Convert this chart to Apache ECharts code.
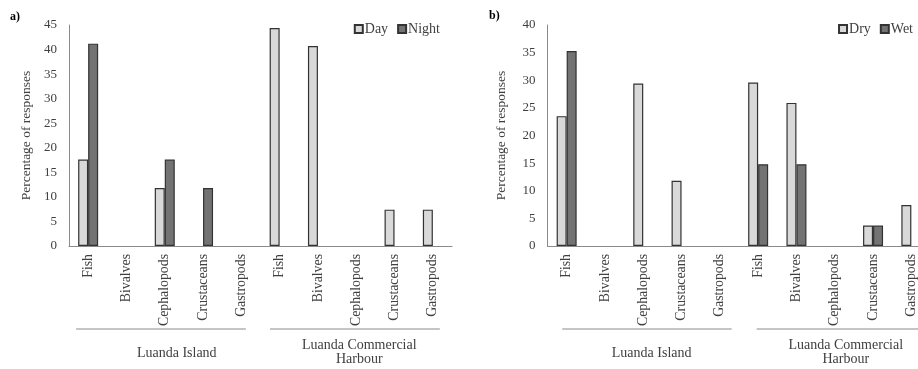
<!DOCTYPE html>
<html><head><meta charset="utf-8">
<script src="https://cdn.jsdelivr.net/npm/echarts@6/dist/echarts.min.js"></script>
<style>html,body{margin:0;padding:0;background:#fff}#c{width:918px;height:369px}</style>
</head><body><div id="c"></div>
<script>
const categories = ['Fish','Bivalves','Cephalopods','Crustaceans','Gastropods','Fish','Bivalves','Cephalopods','Crustaceans','Gastropods'];
const groupIsland = 'Luanda Island';
const groupHarbour = 'Luanda Commercial\nHarbour';
const dayValues   = [17.6, 0, 11.8, 0, 0, 44.4, 40.7, 0, 7.4, 7.4];
const nightValues = [41.2, 0, 17.6, 11.8, 0, 0, 0, 0, 0, 0];
const dryValues   = [23.5, 0, 29.4, 11.8, 0, 29.6, 25.9, 0, 3.7, 7.4];
const wetValues   = [35.3, 0, 0, 0, 0, 14.8, 14.8, 0, 3.7, 0];
const yMaxA = 45, yMaxB = 40, yStep = 5;

const FONT = '"Liberation Serif","Times New Roman",serif';
const TXT = '#404040';
const LIGHT = '#d9d9d9', DARK = '#737373', EDGE = '#333333';
const nz = a => a.map(v => v === 0 ? '-' : v);

const chart = echarts.init(document.getElementById('c'), null, {renderer:'canvas'});

function xAx(gi){
  return {
    type:'category', gridIndex:gi, data:categories,
    axisLine:{lineStyle:{color:'#8a8a8a', width:1}},
    axisTick:{show:false},
    axisLabel:{interval:0, rotate:90, margin:8, fontFamily:FONT, fontSize:13.8, color:TXT}
  };
}
function yAx(gi, max, gap){
  return {
    type:'value', gridIndex:gi, min:0, max:max, interval:yStep,
    name:'Percentage of responses', nameLocation:'middle', nameGap:gap, nameRotate:90,
    nameTextStyle:{fontFamily:FONT, fontSize:13.5, color:TXT},
    axisLine:{show:true, lineStyle:{color:'#8a8a8a', width:1}},
    axisTick:{show:false},
    splitLine:{show:false},
    axisLabel:{margin:12, fontFamily:FONT, fontSize:13, color:TXT}
  };
}
function bar(name, data, xi, color){
  return {
    name:name, type:'bar', xAxisIndex:xi, yAxisIndex:xi, data:nz(data),
    barWidth:10, barGap:'0%',
    itemStyle:{color:color, borderColor:EDGE, borderWidth:1.2},
    emphasis:{disabled:true}, animation:false
  };
}
const legendCommon = {
  icon:'rect', itemWidth:8, itemHeight:8, itemGap:9, top:17,
  textStyle:{fontFamily:FONT, fontSize:14, color:TXT, padding:[0,0,0,-3]}
};

chart.setOption({
  animation:false,
  backgroundColor:'#fff',
  grid:[
    {left:69, top:25, width:383, height:221, containLabel:false, outerBoundsMode:'none'},
    {left:547.5, top:25, width:383, height:221, containLabel:false, outerBoundsMode:'none'}
  ],
  xAxis:[xAx(0), xAx(1)],
  yAxis:[yAx(0, yMaxA, 36), yAx(1, yMaxB, 39)],
  legend:[
    Object.assign({}, legendCommon, {data:['Day','Night'], right:473}),
    Object.assign({}, legendCommon, {data:['Dry','Wet'], right:0})
  ],
  series:[
    bar('Day', dayValues, 0, LIGHT),
    bar('Night', nightValues, 0, DARK),
    bar('Dry', dryValues, 1, LIGHT),
    bar('Wet', wetValues, 1, DARK)
  ]
});

// group annotations positioned from the category scale
function px(ai, idx){ return chart.convertToPixel({xAxisIndex:ai}, idx); }
const g = [];
const lineY = 329;
const specs = [
  {ai:0, from:0, to:4, s:-12, e:4.5, t:12, text:groupIsland, ty:353},
  {ai:0, from:5, to:9, s:-9.6, e:7, t:3, text:groupHarbour, ty:352.5},
  {ai:1, from:0, to:4, s:-4.4, e:11.8, t:8.4, text:groupIsland, ty:353},
  {ai:1, from:5, to:9, s:-1.5, e:12, t:11, text:groupHarbour, ty:352.5}
];
specs.forEach(sp => {
  const a = px(sp.ai, sp.from), b = px(sp.ai, sp.to);
  g.push({type:'line', silent:true, shape:{x1:a+sp.s, y1:lineY, x2:b+sp.e, y2:lineY},
          style:{stroke:'#8a8a8a', lineWidth:1}});
  g.push({type:'text', silent:true, x:(a+b)/2+sp.t, y:sp.ty,
          style:{text:sp.text, font:'14px '+FONT, fill:TXT, align:'center', verticalAlign:'middle', lineHeight:14}});
});
g.push({type:'text', x:10, y:17, style:{text:'a)', font:'bold 12px '+FONT, fill:'#000', verticalAlign:'middle'}});
g.push({type:'text', x:489, y:16, style:{text:'b)', font:'bold 12px '+FONT, fill:'#000', verticalAlign:'middle'}});
chart.setOption({graphic:g});
</script></body></html>
